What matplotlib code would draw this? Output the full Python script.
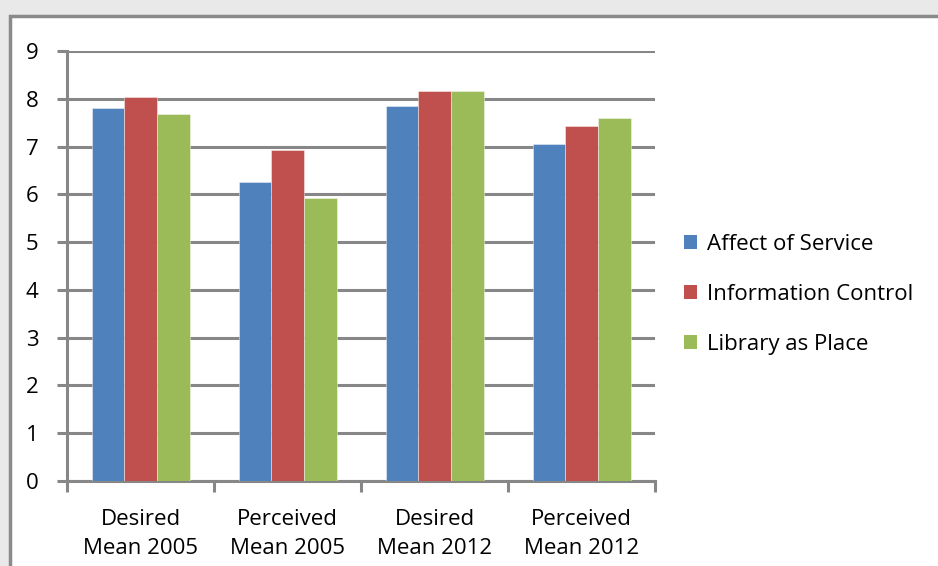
import numpy as np
import matplotlib
matplotlib.use('Agg')
import matplotlib.pyplot as plt
from matplotlib.patches import Rectangle, Patch

plt.rcParams['font.family'] = ['Open Sans', 'DejaVu Sans']

# data
categories = ['Desired\nMean 2005', 'Perceived\nMean 2005', 'Desired\nMean 2012', 'Perceived\nMean 2012']
series = ['Affect of Service', 'Information Control', 'Library as Place']
affect = [7.80, 6.25, 7.84, 7.05]
info = [8.04, 6.92, 8.17, 7.43]
place = [7.68, 5.92, 8.17, 7.59]
colors = ['#4F81BD', '#C0504D', '#9BBB59']
grid_col = '#878787'
fs = 16

fig = plt.figure(figsize=(9.38, 5.66), dpi=100)
fig.patch.set_facecolor('#e9e9e9')
# white chart area with grey frame
fig.patches.append(Rectangle((10 / 938, -0.1), 1.2, 1 - 16 / 566 + 0.1,
                             transform=fig.transFigure, facecolor='white',
                             edgecolor='#8a8a8a', linewidth=2.5, zorder=-5))

ax = fig.add_axes([67 / 938, 1 - 481 / 566, (655 - 67) / 938, (481 - 51) / 566])
ax.set_facecolor('none')
ax.set_zorder(2)

x = np.arange(len(categories))
w = 1 / 4.5
for i, vals in enumerate([affect, info, place]):
    ax.bar(x + (i - 1) * w, vals, w, color=colors[i], label=series[i],
           edgecolor=(1, 1, 1, 0.5), linewidth=0.6, zorder=3)

ax.set_xlim(-0.5, 3.5)
ax.set_ylim(0, 9)
ax.set_yticks(range(10))
ax.yaxis.grid(True, color=grid_col, linewidth=2.2, zorder=1)
ax.set_axisbelow(True)

for s in ['top', 'right']:
    ax.spines[s].set_visible(False)
for s in ['left', 'bottom']:
    ax.spines[s].set_color(grid_col)
    ax.spines[s].set_linewidth(2.2)

ax.tick_params(axis='y', length=7.5, width=2.2, color=grid_col, pad=13,
               labelsize=fs, direction='out')
ax.set_xticks(x)
ax.set_xticklabels(categories, fontsize=fs, linespacing=1.5)
ax.set_xticks(np.arange(-0.5, 4, 1), minor=True)
ax.tick_params(axis='x', which='major', length=0, pad=20)
ax.tick_params(axis='x', which='minor', length=8, width=2.2, color=grid_col,
               direction='out')

handles = [Patch(facecolor=c) for c in colors]
fig.legend(handles, series, loc='center left', bbox_to_anchor=(664 / 938, 1 - 294.5 / 566),
           frameon=False, fontsize=fs, handlelength=0.6, handleheight=0.6,
           handletextpad=0.45, labelspacing=1.3)

fig.savefig('out.png', dpi=100, facecolor=fig.get_facecolor())
